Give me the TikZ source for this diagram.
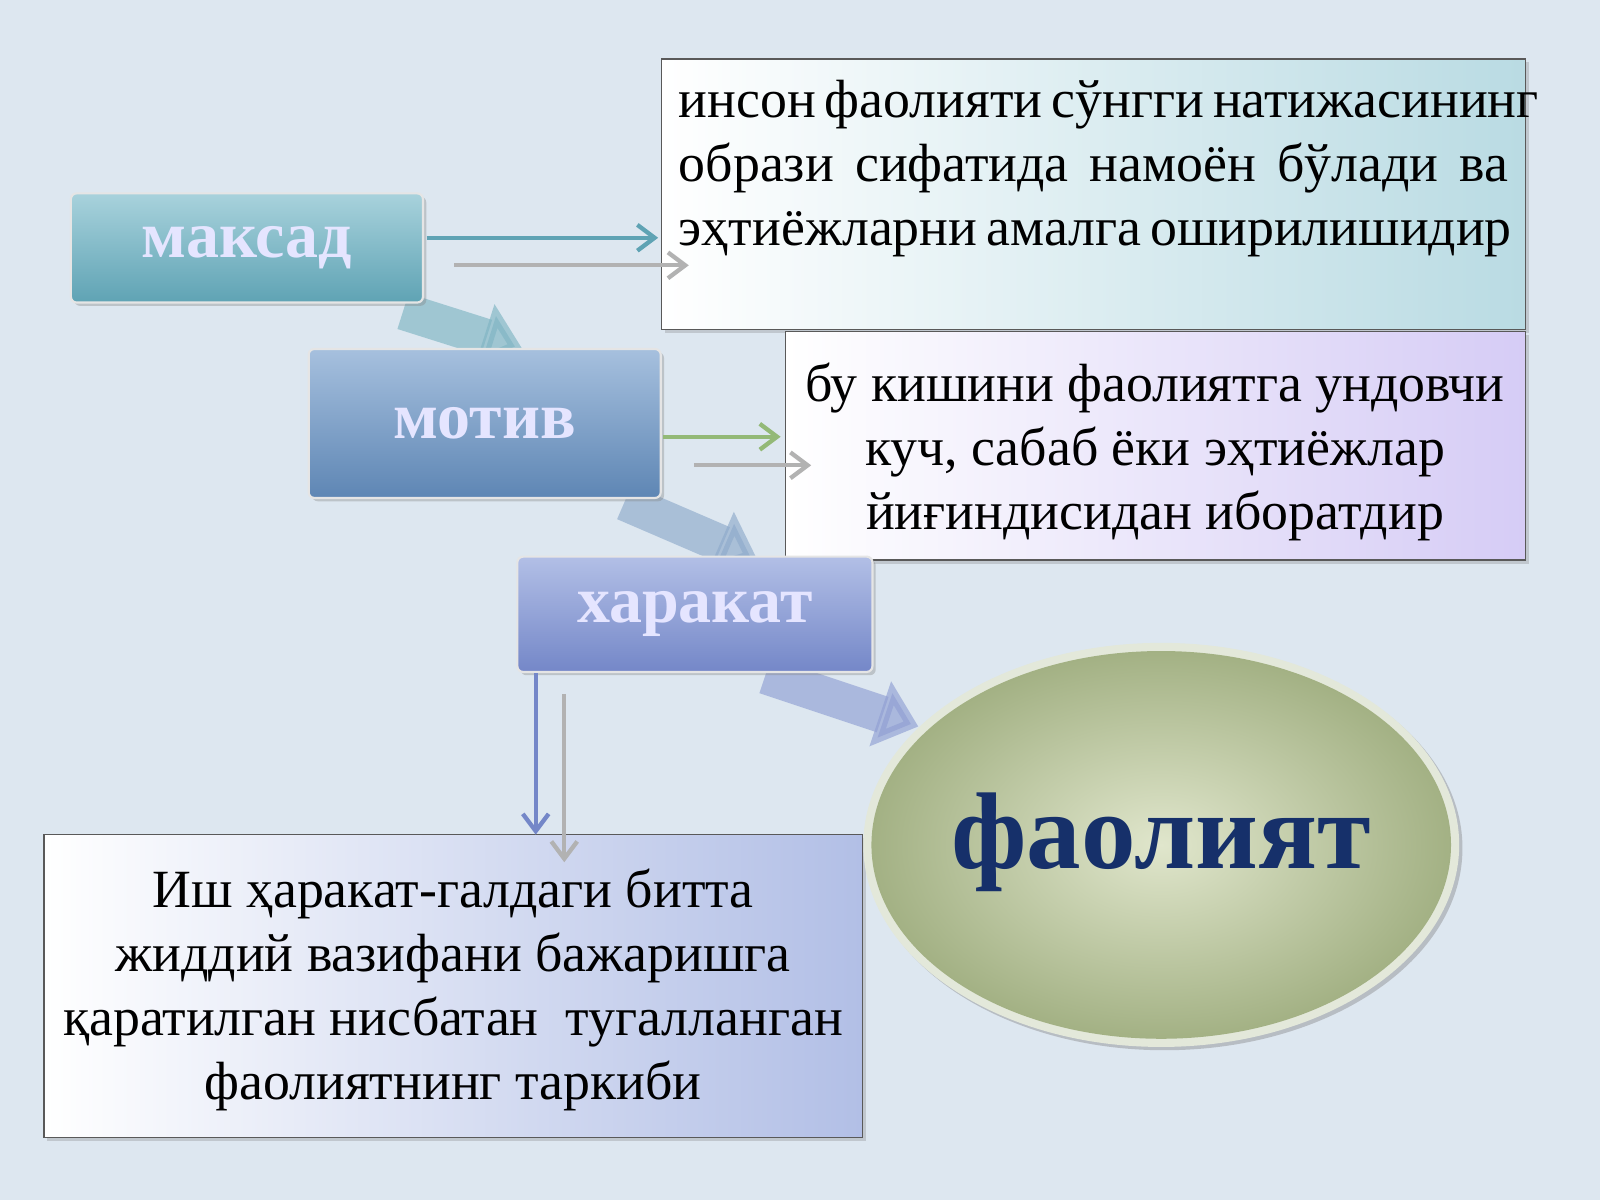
\documentclass[tikz,border=0pt]{standalone}
\usepackage{fontspec}
\setmainfont{Liberation Serif}
\usetikzlibrary{arrows.meta,shadows,calc}
\definecolor{bg}{HTML}{DDE7F0}
\definecolor{teal1}{HTML}{5FA3B4}
\definecolor{teal2}{HTML}{A8D2DC}
\definecolor{blu1}{HTML}{5E86B4}
\definecolor{blu2}{HTML}{A6C0DE}
\definecolor{per1}{HTML}{7487C8}
\definecolor{per2}{HTML}{B2BFE6}
\definecolor{olive1}{HTML}{A3B184}
\definecolor{olive2}{HTML}{E0E6CC}
\definecolor{navy}{HTML}{16306A}
\tikzset{
  lbl/.style={draw=white!80!gray, line width=1.5pt, rounded corners=4pt, minimum width=345*0.025cm,
    font=\bfseries\fontsize{46}{50}\selectfont, text=white!90!blue, drop shadow={opacity=0.35}},
  tbox/.style={draw=gray!70!black, line width=1pt, drop shadow={opacity=0.3}},
  thin/.style={line width=3pt, -{Straight Barb[length=12pt,width=18pt]}},
  blk/.style={line width=26pt, -{Triangle[length=28pt,width=46pt]}, opacity=0.65},
  txt/.style={font=\fontsize{37.5}{44.6}\selectfont}
}
\begin{document}
\begin{tikzpicture}[x=0.025cm,y=-0.025cm]
\fill[bg] (0,0) rectangle (1568,1176);
\useasboundingbox (0,0) rectangle (1568,1176);
% text boxes
\path[tbox, left color=white, right color=teal2!80] (648,58) rectangle (1495,323);
\node[txt, text width=813*0.025cm, align=justify, anchor=north west, inner sep=0pt] (t1) at (665,78)
 {инсон фаолияти сўнгги натижасининг образи сифатида намоён бўлади ва эҳтиёжларни амалга оширилишидир};
\path[tbox, left color=white, right color=purple!25!blue!20] (770,325) rectangle (1495,549);
\node[txt, align=center] (t2) at (1132,443)
 {бу кишини фаолиятга ундовчи\\куч, сабаб ёки эҳтиёжлар\\йиғиндисидан иборатдир};
\path[tbox, left color=white, right color=per2] (43,818) rectangle (845,1115);
\node[txt, align=center] (t3) at (444,970)
 {Иш ҳаракат-галдаги битта\\жиддий вазифани бажаришга\\қаратилган нисбатан\ \ тугалланган\\фаолиятнинг таркиби};
% block arrows
\coordinate (a1) at (395,305); \coordinate (b1) at (512,342);
\coordinate (a2) at (612,492); \coordinate (b2) at (742,548);
\coordinate (a3) at (750,662); \coordinate (b3) at (900,712);
\draw[blk, draw=teal1!80] (a1) -- (b1);
\draw[blk, draw=blu1!70] (a2) -- (b2);
\draw[blk, draw=per1!80] (a3) -- (b3);
% labels
\node[lbl, top color=teal2, bottom color=teal1, minimum height=107*0.025cm] (m) at (242,243) {максад};
\node[lbl, top color=blu2, bottom color=blu1, minimum height=146*0.025cm] (mo) at (475,415) {мотив};
\node[lbl, top color=per2, bottom color=per1, minimum width=348*0.025cm, minimum height=113*0.025cm] (h) at (681,602) {харакат};
% ellipse
\fill[white!70!olive1, drop shadow={opacity=0.4}] (1138,828) ellipse (292 and 198);
\shade[inner color=olive2, outer color=olive1] (1138,828) ellipse (284 and 190);
\node[font=\bfseries\fontsize{76}{80}\selectfont, text=navy] (f) at (1138,825) {фаолият};
% thin arrows
\coordinate (p1) at (418,233); \coordinate (q1) at (645,233);
\coordinate (p2) at (445,260); \coordinate (q2) at (675,260);
\coordinate (p3) at (650,428); \coordinate (q3) at (765,428);
\coordinate (p4) at (680,456); \coordinate (q4) at (795,456);
\coordinate (p5) at (525,660); \coordinate (q5) at (525,818);
\coordinate (p6) at (553,680); \coordinate (q6) at (553,845);
\draw[thin, draw=teal1] (p1) -- (q1);
\draw[thin, draw=gray!60] (p2) -- (q2);
\draw[thin, draw=olive1!90!green] (p3) -- (q3);
\draw[thin, draw=gray!60] (p4) -- (q4);
\draw[thin, draw=per1] (p5) -- (q5);
\draw[thin, draw=gray!60] (p6) -- (q6);
\end{tikzpicture}
\end{document}
